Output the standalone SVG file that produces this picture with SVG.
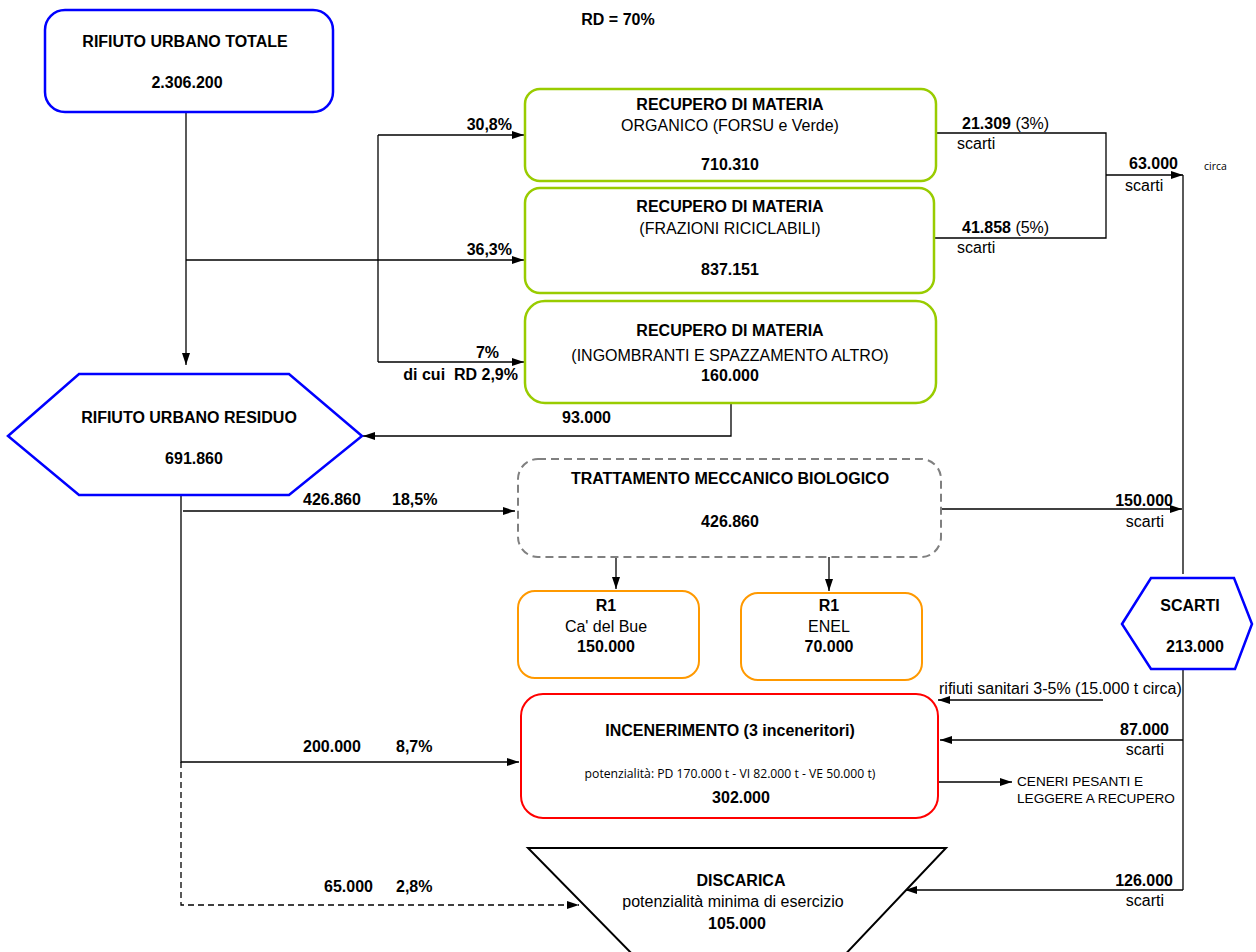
<svg xmlns="http://www.w3.org/2000/svg" width="1256" height="952" viewBox="0 0 1256 952">
<defs>
<marker id="arr" viewBox="0 0 12 8" refX="12" refY="4" markerWidth="12" markerHeight="8" markerUnits="userSpaceOnUse" orient="auto">
<path d="M0,0 L12,4 L0,8 z" fill="#000"/>
</marker>
<style>
text{font-family:"Liberation Sans",Arial,sans-serif;fill:#000}
.b{font-size:16px;font-weight:bold}
.r{font-size:16px}
.m{text-anchor:middle}
.e{text-anchor:end}
.s{font-family:"Open Sans","Liberation Sans",sans-serif;font-size:12.2px}
.c{font-size:13.6px}
.blue{fill:#fff;stroke:#0000ff;stroke-width:2.5}
.green{fill:#fff;stroke:#99cc00;stroke-width:2.5}
.orange{fill:#fff;stroke:#ff9900;stroke-width:2}
.red{fill:#fff;stroke:#ff0000;stroke-width:2}
.gray{fill:#fff;stroke:#808080;stroke-width:2;stroke-dasharray:8,5}
.ln{fill:none;stroke:#000;stroke-width:1.3}
.ar{marker-end:url(#arr)}
.dash{stroke-dasharray:6,4}
</style>
</defs>
<rect width="1256" height="952" fill="#fff"/>

<g id="connectors">
<path class="ln ar" d="M186,112 V365"/>
<path class="ln ar" d="M186,260 H524"/>
<path class="ln" d="M378,135 V362"/>
<path class="ln ar" d="M378,135 H524"/>
<path class="ln ar" d="M378,362 H524"/>
<path class="ln ar" d="M731,403 V436 H363"/>
<path class="ln" d="M936,133 H1106 V238 H935"/>
<path class="ln ar" d="M1106,175 H1183"/>
<path class="ln" d="M1183,175 V574"/>
<path class="ln ar" d="M941,509 H1182"/>
<path class="ln ar" d="M181,495 V762 H519"/>
<path class="ln ar" d="M183,511 H515"/>
<path class="ln ar dash" d="M181,762 V905 H579"/>
<path class="ln ar" d="M616,557 V589"/>
<path class="ln ar" d="M829,557 V591"/>
<path class="ln" d="M1183,669 V890"/>
<path class="ln ar" d="M1183,740 H940"/>
<path class="ln ar" d="M1103,700 H938"/>
<path class="ln ar" d="M1183,890 H905"/>
<path class="ln ar" d="M938,782 H1012"/>
</g>

<g id="rd-label">
<text class="b m" x="618" y="25">RD = 70%</text>
</g>

<g id="edge-labels">
<text class="b e" x="512" y="130">30,8%</text>
<text class="b e" x="512" y="255">36,3%</text>
<text class="b e" x="499" y="358">7%</text>
<text class="b e" x="518" y="380" xml:space="preserve">di cui  RD 2,9%</text>
<text class="b" x="562" y="423">93.000</text>
<text class="b" x="303" y="505">426.860</text>
<text class="b" x="392" y="505">18,5%</text>
<text class="b" x="303" y="752">200.000</text>
<text class="b" x="396" y="752">8,7%</text>
<text class="b" x="324" y="892">65.000</text>
<text class="b" x="396" y="892">2,8%</text>
<text x="962" y="129"><tspan class="b">21.309</tspan><tspan class="r"> (3%)</tspan></text>
<text class="r" x="957" y="149">scarti</text>
<text x="962" y="233"><tspan class="b">41.858</tspan><tspan class="r"> (5%)</tspan></text>
<text class="r" x="957" y="253">scarti</text>
<text class="b" x="1129" y="169">63.000</text>
<text class="r" x="1125" y="191">scarti</text>
<text class="s" x="1204" y="170" style="font-size:10.5px">circa</text>
<text class="b e" x="1173" y="506">150.000</text>
<text class="r e" x="1164" y="527">scarti</text>
<text class="r" x="939" y="694">rifiuti sanitari 3-5% (15.000 t circa)</text>
<text class="b e" x="1169" y="735">87.000</text>
<text class="r e" x="1164" y="755">scarti</text>
<text class="c" x="1017" y="786">CENERI PESANTI E</text>
<text class="c" x="1017" y="803">LEGGERE A RECUPERO</text>
<text class="b e" x="1173" y="886">126.000</text>
<text class="r e" x="1164" y="906">scarti</text>
</g>

<g id="rifiuto-urbano-totale">
<rect class="blue" x="45" y="10" width="288" height="102" rx="20"/>
<text class="b m" x="185" y="47">RIFIUTO URBANO TOTALE</text>
<text class="b m" x="187" y="88">2.306.200</text>
</g>

<g id="recupero-organico">
<rect class="green" x="525" y="89" width="411" height="92" rx="15"/>
<text class="b m" x="730" y="110">RECUPERO DI MATERIA</text>
<text class="r m" x="730" y="131">ORGANICO (FORSU e Verde)</text>
<text class="b m" x="730" y="170">710.310</text>
</g>

<g id="recupero-riciclabili">
<rect class="green" x="525" y="188" width="409" height="105" rx="15"/>
<text class="b m" x="730" y="212">RECUPERO DI MATERIA</text>
<text class="r m" x="730" y="234">(FRAZIONI RICICLABILI)</text>
<text class="b m" x="730" y="275">837.151</text>
</g>

<g id="recupero-ingombranti">
<rect class="green" x="525" y="301" width="411" height="102" rx="20"/>
<text class="b m" x="730" y="336">RECUPERO DI MATERIA</text>
<text class="r m" x="730" y="361">(INGOMBRANTI E SPAZZAMENTO ALTRO)</text>
<text class="b m" x="730" y="381">160.000</text>
</g>

<g id="rifiuto-urbano-residuo">
<polygon class="blue" points="8,436 79,374 289,374 362,436 289,495 79,495"/>
<text class="b m" x="189" y="423">RIFIUTO URBANO RESIDUO</text>
<text class="b m" x="194" y="464">691.860</text>
</g>

<g id="tmb">
<rect class="gray" x="518" y="459" width="423" height="98" rx="20"/>
<text class="b m" x="730" y="484">TRATTAMENTO MECCANICO BIOLOGICO</text>
<text class="b m" x="730" y="527">426.860</text>
</g>

<g id="r1-ca-del-bue">
<rect class="orange" x="518" y="591" width="181" height="87" rx="17"/>
<text class="b m" x="606" y="611">R1</text>
<text class="r m" x="606" y="632">Ca' del Bue</text>
<text class="b m" x="606" y="652">150.000</text>
</g>

<g id="r1-enel">
<rect class="orange" x="741" y="593" width="181" height="87" rx="17"/>
<text class="b m" x="829" y="611">R1</text>
<text class="r m" x="829" y="632">ENEL</text>
<text class="b m" x="829" y="652">70.000</text>
</g>

<g id="scarti">
<polygon class="blue" points="1122,624 1151,578 1234,578 1252,624 1235,669 1151,669"/>
<text class="b m" x="1190" y="611">SCARTI</text>
<text class="b m" x="1195" y="652">213.000</text>
</g>

<g id="incenerimento">
<rect class="red" x="521" y="694" width="417" height="124" rx="22"/>
<text class="b m" x="730" y="736">INCENERIMENTO (3 inceneritori)</text>
<text class="s m" x="730" y="778">potenzialità: PD 170.000 t - VI 82.000 t - VE 50.000 t)</text>
<text class="b m" x="741" y="803">302.000</text>
</g>

<g id="discarica">
<polygon fill="#fff" stroke="#000" stroke-width="2" points="528,848 946,848 838,962 640,962"/>
<text class="b m" x="741" y="886">DISCARICA</text>
<text class="r m" x="733" y="907">potenzialità minima di esercizio</text>
<text class="b m" x="737" y="929">105.000</text>
</g>
</svg>
